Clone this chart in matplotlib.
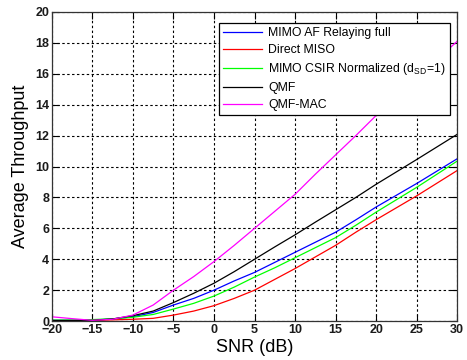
import matplotlib
matplotlib.use("Agg")
import matplotlib.pyplot as plt

plt.rcParams['font.family'] = ['Liberation Sans', 'DejaVu Sans']
plt.rcParams['mathtext.default'] = 'regular'

snr = [-20, -17.5, -15, -12.5, -10, -7.5, -5, -2.5, 0, 2.5, 5, 7.5, 10, 12.5, 15, 17.5, 20, 25, 30]

mimo_af = [0.05, 0.05, 0.07, 0.14, 0.28, 0.56, 1.04, 1.47, 2.0, 2.6, 3.15, 3.8, 4.45, 5.1, 5.75, 6.55, 7.38, 8.9, 10.5]
direct_miso = [0.03, 0.03, 0.04, 0.08, 0.12, 0.18, 0.39, 0.65, 1.0, 1.47, 2.0, 2.7, 3.4, 4.15, 4.9, 5.75, 6.56, 8.1, 9.74]
mimo_csir = [0.06, 0.07, 0.1, 0.15, 0.25, 0.43, 0.78, 1.15, 1.62, 2.2, 2.85, 3.45, 4.1, 4.75, 5.4, 6.2, 7.05, 8.65, 10.35]
qmf = [0.04, 0.04, 0.05, 0.14, 0.35, 0.65, 1.2, 1.8, 2.45, 3.2, 4.0, 4.8, 5.58, 6.4, 7.2, 8.0, 8.85, 10.45, 12.08]
qmf_mac = [0.28, 0.16, 0.05, 0.12, 0.39, 1.04, 2.0, 2.88, 3.85, 4.9, 6.0, 7.1, 8.2, 9.5, 10.75, 12.0, 13.3, 15.7, 18.1]

labels = ['MIMO AF Relaying full', 'Direct MISO', r'MIMO CSIR Normalized (d$_{SD}$=1)', 'QMF', 'QMF-MAC']
colors = ['#0000ff', '#ff0000', '#00ff00', '#000000', '#ff00ff']
series = [mimo_af, direct_miso, mimo_csir, qmf, qmf_mac]

xticks = [-20, -15, -10, -5, 0, 5, 10, 15, 20, 25, 30]
yticks = [0, 2, 4, 6, 8, 10, 12, 14, 16, 18, 20]

fig = plt.figure(figsize=(4.67, 3.6), dpi=100)
ax = fig.add_axes([0.111, 0.108, 0.868, 0.859])

for y, c, lab in zip(series, colors, labels):
    ax.plot(snr, y, color=c, lw=0.9, label=lab)

ax.set_xlim(-20, 30)
ax.set_ylim(0, 20)
ax.set_xticks(xticks)
ax.set_yticks(yticks)
ax.grid(True, color='black', linestyle=(0, (2.2, 2.2)), linewidth=0.8)
ax.tick_params(direction='in', top=True, right=True, length=5, width=0.8,
               labelsize=9, pad=2)
for lbl in ax.get_xticklabels() + ax.get_yticklabels():
    lbl.set_fontweight('bold')
    lbl.set_color('#1a1a1a')
for s in ax.spines.values():
    s.set_linewidth(0.9)
    s.set_color('#333333')

ax.set_xlabel('SNR (dB)', fontsize=13, labelpad=2)
ax.set_ylabel('Average Throughput', fontsize=13, labelpad=4)

leg = ax.legend(loc='upper right', bbox_to_anchor=(450 / 467, 1 - 23 / 360),
                bbox_transform=fig.transFigure, fontsize=8.8, frameon=True,
                fancybox=False, edgecolor='black', framealpha=1,
                handlelength=3.2, handletextpad=0.5, borderpad=0.35,
                labelspacing=0.4, borderaxespad=0)
leg.get_frame().set_linewidth(0.9)

fig.savefig('out.png', dpi=100)
